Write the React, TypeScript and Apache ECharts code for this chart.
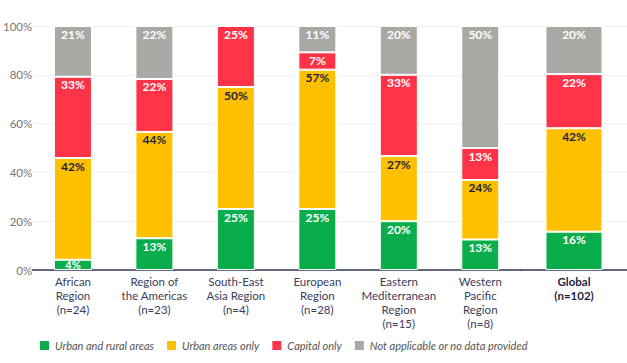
import React, { useEffect, useRef } from "react";
import * as echarts from "echarts";

const regions = [
  "African\nRegion\n(n=24)",
  "Region of\nthe Americas\n(n=23)",
  "South-East\nAsia Region\n(n=4)",
  "European\nRegion\n(n=28)",
  "Eastern\nMediterranean\nRegion\n(n=15)",
  "Western\nPacific\nRegion\n(n=8)",
];
const globalLabel = ["Global\n(n=102)"];

const seriesNames = [
  "Urban and rural areas",
  "Urban areas only",
  "Capital only",
  "Not applicable or no data provided",
];

const urbanRural = [4.2, 13.0, 25, 25, 20, 12.5];
const urbanOnly = [41.7, 43.6, 50, 57.1, 26.7, 24.4];
const capitalOnly = [33.3, 21.7, 25, 7.1, 33.3, 13.1];
const notApplicable = [20.8, 21.7, 0, 10.8, 20, 50];

const globalValues = [15.7, 42.4, 22.2, 19.7];

const yTicks = [0, 20, 40, 60, 80, 100];

const colors = ["#0aad4c", "#ffc000", "#ff3347", "#a8a8a4"];
const labelColors = ["#ffffff", "#1f1f3d", "#ffffff", "#ffffff"];

const FONT = "Lato, 'Noto Sans', sans-serif";

export default function App() {
  const ref = useRef<HTMLDivElement>(null);
  useEffect(() => {
    if (!ref.current) return;
    const chart = echarts.init(ref.current, undefined, { renderer: "svg" });
    const regionData = [urbanRural, urbanOnly, capitalOnly, notApplicable];

    const labelFor = (i: number) => ({
      show: true,
      position: "insideTop" as const,
      distance: 2,
      color: labelColors[i],
      fontFamily: FONT,
      fontWeight: "bold" as const,
      fontSize: 12,
      formatter: (p: any) => (p.value > 0 ? Math.round(p.value) + "%" : ""),
    });

    const toItems = (vals: number[]) =>
      vals.map((v) =>
        v > 0 && v < 6
          ? { value: v, label: { position: "inside", distance: 0, fontSize: 11 } }
          : v
      );

    const series: any[] = [];
    seriesNames.forEach((name, i) => {
      series.push({
        name,
        type: "bar",
        stack: "a",
        xAxisIndex: 0,
        yAxisIndex: 0,
        barWidth: 38,
        data: toItems(regionData[i]),
        itemStyle: { color: colors[i], borderColor: "#fff", borderWidth: 1 },
        label: labelFor(i),
      });
      series.push({
        name,
        type: "bar",
        stack: "b",
        xAxisIndex: 1,
        yAxisIndex: 1,
        barWidth: 57,
        data: toItems([globalValues[i]]),
        itemStyle: { color: colors[i], borderColor: "#fff", borderWidth: 1 },
        label: labelFor(i),
      });
    });

    const yBase = {
      type: "value" as const,
      min: yTicks[0],
      max: yTicks[yTicks.length - 1],
      interval: 20,
      axisLine: { show: false },
      axisTick: { show: false },
      splitLine: { show: true, lineStyle: { color: "#f0f0f0", width: 1 } },
    };

    const xBase = {
      type: "category" as const,
      axisTick: { show: false },
      axisLine: { show: true, lineStyle: { color: "#33385a", width: 1.5 } },
    };

    chart.setOption({
      animation: false,
      grid: [
        { left: 31, width: 490, top: 26, height: 244 },
        { left: 521, width: 126, top: 26, height: 244 },
      ],
      legend: {
        left: 38,
        top: 339,
        padding: 0,
        itemWidth: 11,
        itemHeight: 11,
        itemGap: 11,
        icon: "rect",
        data: seriesNames,
        textStyle: {
          color: "#555",
          fontStyle: "italic",
          fontFamily: FONT,
          fontSize: 11,
        },
      },
      xAxis: [
        {
          ...xBase,
          gridIndex: 0,
          data: regions,
          axisLabel: {
            color: "#3a3d5c",
            fontFamily: FONT,
            fontSize: 11.5,
            lineHeight: 14,
            margin: 4,
            interval: 0,
          },
        },
        {
          ...xBase,
          gridIndex: 1,
          data: globalLabel,
          axisLabel: {
            color: "#1f1f3d",
            fontFamily: FONT,
            fontSize: 11.5,
            fontWeight: "bold",
            lineHeight: 14,
            margin: 4,
            interval: 0,
          },
        },
      ],
      yAxis: [
        {
          ...yBase,
          gridIndex: 0,
          axisLabel: {
            color: "#777",
            fontFamily: FONT,
            fontSize: 11.5,
            margin: 0,
            formatter: (v: number) => v + "%",
          },
        },
        {
          ...yBase,
          gridIndex: 1,
          axisLabel: { show: false },
        },
      ],
      series,
    });
    return () => chart.dispose();
  }, []);
  return (
    <div
      ref={ref}
      style={{ position: "fixed", left: 0, top: 0, width: 627, height: 363, background: "#fff" }}
    />
  );
}
